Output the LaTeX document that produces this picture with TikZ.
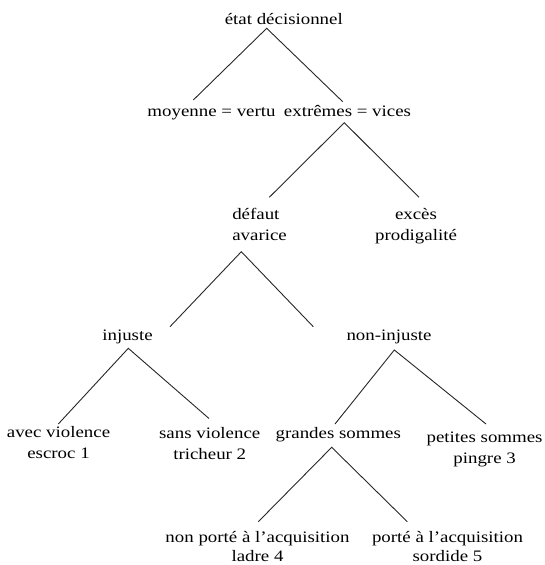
\documentclass[tikz,border=0pt]{standalone}
\usepackage{fontspec}
\setmainfont[FakeStretch=1.18]{Liberation Serif}
\begin{document}
\begin{tikzpicture}[x=1pt,y=-1pt,
  lbl/.style={inner sep=0pt,outer sep=0pt,font=\fontsize{16}{21}\selectfont,anchor=base},
  low/.style={font=\fontsize{16}{19.5}\selectfont},
  edge/.style={line width=0.9pt,draw=black!85}]
\useasboundingbox (0,0) rectangle (544,565);
% nodes
\node[lbl] (root) at (283.8,24) {état décisionnel};
\node[lbl] (moy) at (211.5,116.7) {moyenne = vertu};
\node[lbl] (ext) at (347.5,116.7) {extrêmes = vices};
\node[lbl,anchor=base west] (def) at (232.3,219.3) {\begin{tabular}[t]{@{}l@{}}défaut\\avarice\end{tabular}};
\node[lbl] (exc) at (416,219.3) {\begin{tabular}[t]{@{}c@{}}excès\\prodigalité\end{tabular}};
\node[lbl] (inj) at (127.5,340) {injuste};
\node[lbl] (non) at (389,340) {non-injuste};
\node[lbl] (avec) at (58.5,437.3) {\begin{tabular}[t]{@{}c@{}}avec violence\\escroc 1\end{tabular}};
\node[lbl] (sans) at (209.7,438.3) {\begin{tabular}[t]{@{}c@{}}sans violence\\tricheur 2\end{tabular}};
\node[lbl] (gra) at (338.3,438) {grandes sommes};
\node[lbl] (pet) at (484.6,442) {\begin{tabular}[t]{@{}c@{}}petites sommes\\pingre 3\end{tabular}};
\node[lbl,low] (npa) at (257.5,542) {\begin{tabular}[t]{@{}c@{}}non porté à l’acquisition\\ladre 4\end{tabular}};
\node[lbl,low] (pa) at (447.5,542) {\begin{tabular}[t]{@{}c@{}}porté à l’acquisition\\sordide 5\end{tabular}};
% connector end points
\coordinate (root-a) at (266.7,28.3);
\coordinate (moy-t) at (193.3,100);
\coordinate (ext-t) at (342.7,101.7);
\coordinate (ext-a) at (344.3,122.7);
\coordinate (def-t) at (269.3,197.3);
\coordinate (exc-t) at (419,197.3);
\coordinate (def-a) at (241.3,251.7);
\coordinate (inj-t) at (170,326.7);
\coordinate (non-t) at (313.3,326.7);
\coordinate (inj-a) at (128.3,348.3);
\coordinate (avec-t) at (58.3,424);
\coordinate (sans-t) at (209,418.5);
\coordinate (non-a) at (394.3,350);
\coordinate (gra-t) at (335,424);
\coordinate (pet-t) at (486,424);
\coordinate (gra-a) at (331.7,447.3);
\coordinate (npa-t) at (258.3,521.7);
\coordinate (pa-t) at (407.3,521.7);
% connectors
\draw[edge] (moy-t) -- (root-a) -- (ext-t);
\draw[edge] (def-t) -- (ext-a) -- (exc-t);
\draw[edge] (inj-t) -- (def-a) -- (non-t);
\draw[edge] (avec-t) -- (inj-a) -- (sans-t);
\draw[edge] (gra-t) -- (non-a) -- (pet-t);
\draw[edge] (npa-t) -- (gra-a) -- (pa-t);
\end{tikzpicture}
\end{document}
